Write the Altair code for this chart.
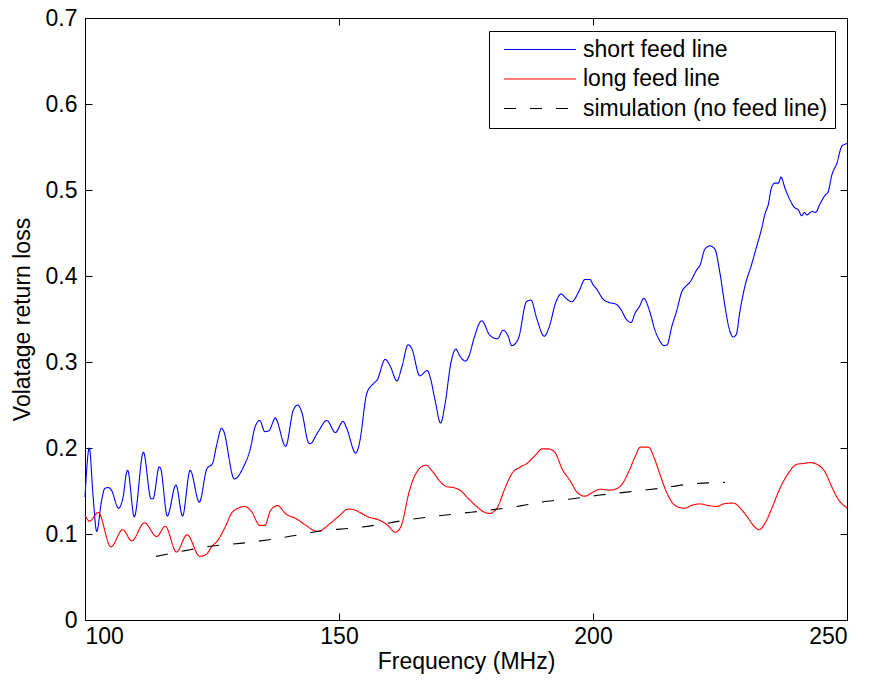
import altair as alt
import pandas as pd

# ---- data ----
short_x = [100.0, 100.85, 101.6, 102.3, 103.3, 103.9, 104.6, 105.2, 106.6, 107.5, 108.2, 108.4,
           109.7, 111.5, 113.0, 113.4, 114.6, 114.9, 116.2, 117.9, 119.2, 120.7, 122.5, 124.0,
           125.1, 125.9, 126.9, 127.2, 129.4, 131.2, 132.5, 133.5, 134.4, 135.4, 136.2, 137.5,
           137.7, 139.5, 141.0, 141.9, 142.7, 144.0, 144.3, 145.9, 147.6, 149.3, 150.8, 151.5,
           153.3, 154.0, 155.5, 156.8, 157.5, 159.1, 160.1, 161.4, 162.4, 163.6, 164.3, 165.9,
           167.4, 168.0, 168.9, 170.0, 170.9, 172.0, 173.0, 173.8, 174.9, 175.6, 176.6, 178.1,
           179.7, 181.2, 182.3, 183.3, 184.0, 185.3, 186.9, 187.8, 188.9, 190.4, 191.4, 192.6,
           193.7, 194.7, 195.8, 197.3, 198.4, 199.4, 200.0, 200.7, 202.0, 203.3, 204.6, 205.6,
           206.5, 207.5, 208.3, 209.1, 210.0, 211.1, 212.2, 213.2, 214.0, 214.6, 215.5, 216.5,
           217.5, 218.1, 219.1, 220.4, 221.1, 222.0, 223.0, 224.0, 225.0, 226.0, 226.8, 227.6,
           228.2, 228.9, 229.9, 231.2, 232.2, 233.2, 233.9, 234.5, 235.1, 235.8, 236.5, 237.0,
           237.8, 238.8, 239.6, 240.4, 241.1, 241.6, 242.1, 243.1, 243.8, 244.7, 245.7, 246.3,
           247.0, 248.0, 249.0, 250.0]
short_y = [0.143, 0.200, 0.143, 0.103, 0.140, 0.153, 0.154, 0.151, 0.130, 0.143, 0.172, 0.174,
           0.120, 0.195, 0.141, 0.141, 0.178, 0.176, 0.121, 0.157, 0.121, 0.174, 0.137, 0.176,
           0.182, 0.203, 0.223, 0.221, 0.164, 0.178, 0.198, 0.225, 0.232, 0.219, 0.220, 0.235,
           0.233, 0.202, 0.244, 0.250, 0.241, 0.206, 0.205, 0.219, 0.232, 0.218, 0.231, 0.223,
           0.194, 0.205, 0.264, 0.275, 0.279, 0.303, 0.295, 0.278, 0.295, 0.320, 0.316, 0.284,
           0.290, 0.281, 0.256, 0.229, 0.252, 0.298, 0.315, 0.307, 0.301, 0.307, 0.328, 0.348,
           0.331, 0.327, 0.337, 0.330, 0.319, 0.327, 0.370, 0.372, 0.351, 0.330, 0.341, 0.368,
           0.379, 0.374, 0.370, 0.383, 0.396, 0.396, 0.390, 0.385, 0.373, 0.369, 0.367, 0.360,
           0.350, 0.346, 0.357, 0.364, 0.374, 0.360, 0.337, 0.324, 0.319, 0.320, 0.341, 0.360,
           0.382, 0.387, 0.393, 0.407, 0.413, 0.431, 0.435, 0.431, 0.403, 0.364, 0.339, 0.329,
           0.332, 0.358, 0.388, 0.413, 0.434, 0.455, 0.473, 0.483, 0.502, 0.508, 0.508, 0.515,
           0.502, 0.488, 0.480, 0.477, 0.470, 0.474, 0.471, 0.475, 0.474, 0.484, 0.494, 0.498,
           0.517, 0.531, 0.551, 0.554]

long_x = [100.0, 100.9, 102.6, 105.1, 107.4, 109.2, 111.7, 114.1, 115.8, 118.0, 120.1, 122.6,
          124.0, 124.9, 126.2, 127.5, 129.1, 131.4, 132.8, 134.4, 135.4, 136.5, 137.9, 139.6,
          141.5, 143.5, 145.1, 145.9, 148.2, 150.2, 151.8, 153.1, 154.1, 155.7, 158.0, 159.6,
          161.1, 162.2, 163.9, 165.2, 167.1, 168.5, 169.9, 171.2, 172.5, 173.8, 175.5, 177.1,
          178.4, 179.6, 181.1, 182.4, 184.0, 185.7, 187.0, 188.7, 190.0, 191.3, 192.6, 193.9,
          195.6, 196.8, 198.4, 199.8, 201.4, 203.3, 204.3, 205.6, 207.0, 208.3, 209.3, 210.9,
          212.2, 213.2, 214.6, 216.2, 217.9, 219.8, 221.1, 222.8, 224.4, 225.7, 227.6, 229.3,
          230.6, 231.7, 232.7, 233.9, 235.2, 236.8, 238.5, 240.1, 241.4, 242.8, 244.4, 245.8,
          246.7, 248.0, 250.0]
long_y = [0.122, 0.115, 0.125, 0.085, 0.105, 0.092, 0.113, 0.097, 0.109, 0.079, 0.099, 0.074,
          0.077, 0.085, 0.093, 0.107, 0.126, 0.132, 0.126, 0.110, 0.110, 0.127, 0.133, 0.123,
          0.118, 0.110, 0.104, 0.103, 0.112, 0.122, 0.129, 0.128, 0.125, 0.120, 0.116, 0.110,
          0.102, 0.109, 0.151, 0.171, 0.180, 0.172, 0.161, 0.155, 0.154, 0.151, 0.141, 0.132,
          0.126, 0.124, 0.130, 0.149, 0.170, 0.178, 0.182, 0.192, 0.199, 0.199, 0.194, 0.176,
          0.161, 0.149, 0.144, 0.148, 0.152, 0.151, 0.152, 0.157, 0.172, 0.190, 0.201, 0.201,
          0.186, 0.169, 0.147, 0.133, 0.130, 0.134, 0.135, 0.133, 0.132, 0.135, 0.136, 0.128,
          0.118, 0.109, 0.105, 0.113, 0.130, 0.153, 0.171, 0.181, 0.182, 0.183, 0.180, 0.171,
          0.159, 0.143, 0.130]

sim_x = [114.0, 120.0, 125.0, 132.0, 137.0, 142.0, 147.0, 153.0, 158.0, 163.0, 168.0, 174.0,
         180.0, 186.0, 191.0, 196.0, 201.0, 207.0, 213.0, 219.0, 226.0]
sim_y = [0.074, 0.081, 0.086, 0.090, 0.094, 0.099, 0.104, 0.107, 0.111, 0.116, 0.120, 0.124,
         0.128, 0.133, 0.138, 0.141, 0.145, 0.149, 0.153, 0.158, 0.160]

series_names = ["short feed line", "long feed line", "simulation (no feed line)"]
series_colors = ["#0000ff", "#ff0000", "#000000"]
series_dash = [[1, 0], [1, 0], [12, 14]]

x_ticks = [100, 150, 200, 250]
y_ticks = [0, 0.1, 0.2, 0.3, 0.4, 0.5, 0.6, 0.7]

rows = []
for name, xs, ys in zip(series_names, [short_x, long_x, sim_x], [short_y, long_y, sim_y]):
    for a, b in zip(xs, ys):
        rows.append({"series": name, "freq": a, "loss": b})
df = pd.DataFrame(rows)

FONT = "Liberation Sans"
FS = 23
TICK = 7

xscale = alt.Scale(domain=[100, 250], nice=False, zero=False)
yscale = alt.Scale(domain=[0, 0.7], nice=False, zero=False)

legend = alt.Legend(
    orient="none", legendX=404, legendY=13, title=None,
    strokeColor="black", fillColor="white", padding=7, cornerRadius=0,
    symbolType="stroke", symbolSize=5184, symbolStrokeWidth=1.2,
    symbolOffset=7, labelOffset=6, clipHeight=23, rowPadding=5.5,
    labelFont=FONT, labelFontSize=FS, labelColor="black", labelLimit=400,
)

common_axis = dict(domain=False, grid=False, tickSize=TICK, offset=-TICK,
                   tickColor="black", tickWidth=1, labelFont=FONT, labelFontSize=FS,
                   labelColor="black", titleFont=FONT, titleFontSize=FS,
                   titleColor="black", titleFontWeight="normal")

lines = alt.Chart(df).mark_line(strokeWidth=1.1, interpolate="monotone").encode(
    x=alt.X("freq:Q", scale=xscale,
            axis=alt.Axis(orient="bottom", values=x_ticks, title="Frequency (MHz)",
                          labelPadding=5, titlePadding=2, **common_axis)),
    y=alt.Y("loss:Q", scale=yscale,
            axis=alt.Axis(orient="left", values=y_ticks, title="Volatage return loss",
                          labelPadding=8, titlePadding=11,
                          labelExpr="datum.value == 0 ? '0' : format(datum.value, '.1f')",
                          **common_axis)),
    color=alt.Color("series:N", scale=alt.Scale(domain=series_names, range=series_colors),
                    sort=series_names, legend=legend),
    strokeDash=alt.StrokeDash("series:N", scale=alt.Scale(domain=series_names, range=series_dash),
                              sort=series_names, legend=legend),
)

frame = alt.Chart(df).mark_line(opacity=0).encode(
    x=alt.X("freq:Q", scale=xscale,
            axis=alt.Axis(orient="top", values=x_ticks, labels=False, title=None, **common_axis)),
    y=alt.Y("loss:Q", scale=yscale,
            axis=alt.Axis(orient="right", values=y_ticks, labels=False, title=None, **common_axis)),
    detail="series:N",
)

chart = alt.layer(lines, frame).resolve_axis(x="independent", y="independent").properties(
    width=762, height=602,
    autosize=alt.AutoSizeParams(type="none"),
    padding={"left": 85, "top": 18, "right": 22, "bottom": 63},
    background="white",
).configure_view(stroke="black", strokeWidth=1)

chart.save("out.html", embed_options={"renderer": "svg", "actions": False})
